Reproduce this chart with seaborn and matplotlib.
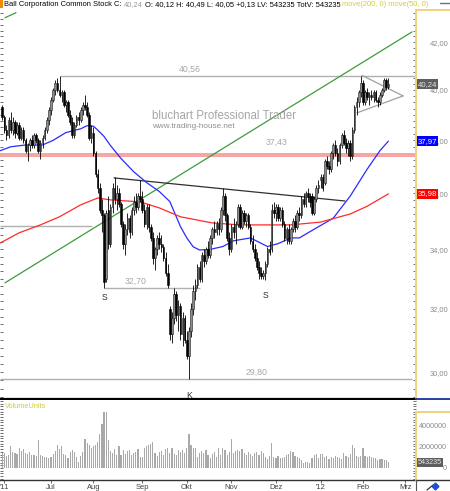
import numpy as np
import matplotlib
matplotlib.use("Agg")
import matplotlib.pyplot as plt
import matplotlib.transforms as mtransforms
from matplotlib.lines import Line2D
from matplotlib.patches import Rectangle
from matplotlib.ticker import FixedLocator, FixedFormatter, NullFormatter
import seaborn as sns

sns.set_style("white")
plt.rcParams['font.family'] = ['Liberation Sans', 'DejaVu Sans']

# Ball Corp daily bars, trading day 0 = 31 May 2011 ... 182 = 17 Feb 2012
opens = [39.3, 38.9, 38.4, 38.2, 38.8, 38.4, 38.7, 38.3, 38.6, 38.1,
         38.4, 38.0, 37.6, 37.8, 38.0, 37.8, 38.2, 38.0, 37.6, 37.9,
         38.1, 38.4, 38.8, 39.2, 39.6, 40.0, 40.3, 40.0, 39.8, 39.9,
         39.4, 39.5, 39.0, 38.7, 38.2, 38.6, 38.9, 38.8, 39.2, 39.4,
         39.3, 39.0, 38.1, 38.3, 37.5, 36.7, 36.2, 35.4, 35.2, 33.0,
         35.4, 34.2, 35.5, 36.2, 35.8, 36.0, 35.6, 34.9, 34.2, 34.7,
         35.1, 34.6, 35.4, 35.7, 35.5, 35.9, 35.8, 35.4, 34.9, 35.5,
         34.8, 34.4, 33.7, 34.0, 34.4, 34.2, 34.1, 33.7, 33.2, 32.0,
         31.2, 31.7, 32.5, 31.8, 32.1, 31.2, 31.7, 31.0, 30.5, 31.3,
         32.0, 32.6, 32.8, 33.4, 33.0, 33.8, 33.6, 34.0, 33.8, 34.4,
         34.7, 34.6, 34.9, 34.7, 35.4, 35.9, 35.2, 34.4, 34.0, 34.8,
         34.6, 34.9, 35.5, 34.8, 35.3, 35.0, 35.2, 34.8, 34.3, 34.0,
         33.7, 33.4, 33.2, 33.1, 33.2, 33.5, 34.0, 34.0, 35.4, 35.3,
         35.5, 35.1, 35.4, 34.9, 34.4, 34.7, 34.3, 34.7, 35.0, 34.8,
         35.3, 35.2, 35.8, 35.6, 36.0, 35.9, 35.9, 35.3, 35.8, 36.2,
         36.5, 36.6, 36.4, 37.2, 37.0, 36.9, 37.5, 37.8, 37.5, 37.2,
         37.8, 38.2, 37.9, 37.7, 37.9, 37.4, 38.4, 39.3, 39.5, 39.9,
         40.3, 39.5, 39.9, 39.7, 39.8, 39.7, 39.9, 39.6, 39.5, 39.8,
         40.0, 40.4, 40.12]
highs = [39.4, 39.0, 38.6, 38.9, 39.1, 38.9, 38.8, 38.7, 38.7, 38.5,
         38.5, 38.1, 37.9, 38.1, 38.2, 38.3, 38.3, 38.1, 38.0, 38.2,
         38.5, 38.9, 39.3, 39.7, 40.1, 40.4, 40.5, 40.56, 40.0, 40.0,
         39.6, 39.6, 39.2, 38.9, 38.7, 39.0, 39.1, 39.3, 39.5, 39.8,
         39.5, 39.1, 38.6, 38.5, 37.6, 36.9, 36.4, 35.8, 35.3, 35.4,
         35.9, 35.6, 36.4, 36.6, 36.3, 36.2, 35.7, 35.0, 34.9, 35.3,
         35.2, 35.5, 35.9, 36.0, 36.0, 36.5, 36.1, 35.6, 35.6, 35.6,
         34.9, 34.6, 34.1, 34.5, 34.6, 34.5, 34.2, 33.9, 33.5, 32.1,
         31.9, 32.7, 32.6, 32.3, 32.2, 31.9, 31.8, 31.3, 31.4, 32.2,
         32.8, 33.0, 33.5, 33.6, 33.9, 34.0, 34.1, 34.3, 34.5, 34.8,
         35.0, 35.0, 35.1, 35.5, 36.2, 36.0, 35.3, 34.6, 34.9, 35.1,
         35.0, 35.6, 35.6, 35.4, 35.4, 35.3, 35.3, 34.9, 34.5, 34.2,
         33.9, 33.6, 33.4, 33.3, 33.6, 34.1, 34.3, 35.6, 35.7, 35.6,
         35.6, 35.5, 35.5, 35.0, 34.8, 34.9, 34.8, 35.1, 35.2, 35.4,
         35.5, 35.9, 36.0, 36.1, 36.2, 36.0, 36.0, 35.9, 36.3, 36.5,
         36.7, 36.7, 37.3, 37.4, 37.2, 37.6, 37.9, 38.0, 37.7, 37.9,
         38.3, 38.4, 38.1, 38.0, 38.0, 38.5, 39.4, 39.7, 40.0, 40.56,
         40.4, 40.0, 40.1, 39.9, 40.0, 40.0, 40.0, 39.7, 39.9, 40.1,
         40.5, 40.5, 40.49]
lows = [38.8, 38.3, 38.0, 38.1, 38.3, 38.2, 38.1, 38.2, 38.0, 38.0,
        37.9, 37.5, 37.2, 37.6, 37.7, 37.7, 37.9, 37.5, 37.3, 37.7,
        38.0, 38.3, 38.6, 39.0, 39.5, 39.8, 39.9, 39.7, 39.5, 39.3,
        39.1, 38.9, 38.6, 38.1, 38.1, 38.5, 38.6, 38.7, 39.0, 39.2,
        38.9, 38.0, 37.9, 37.4, 36.6, 36.0, 35.3, 34.6, 32.7, 32.9,
        34.0, 34.1, 35.3, 35.6, 35.4, 35.5, 34.8, 34.0, 33.8, 34.5,
        34.4, 34.5, 35.2, 35.3, 35.4, 35.7, 35.3, 34.8, 34.7, 34.6,
        34.3, 33.5, 33.3, 33.8, 34.0, 33.9, 33.6, 33.1, 32.7, 31.0,
        30.9, 31.5, 31.6, 31.3, 31.0, 30.8, 30.9, 30.4, 29.8, 31.1,
        31.8, 32.3, 32.7, 32.9, 32.9, 33.4, 33.5, 33.7, 33.7, 34.2,
        34.4, 34.5, 34.5, 34.6, 35.2, 35.0, 34.3, 33.8, 33.9, 34.4,
        34.2, 34.8, 34.7, 34.7, 34.9, 34.8, 34.7, 34.2, 33.9, 33.6,
        33.3, 33.0, 33.0, 33.0, 32.96, 33.4, 33.8, 33.9, 35.1, 35.0,
        35.0, 35.0, 34.8, 34.3, 34.2, 34.2, 34.2, 34.6, 34.6, 34.7,
        35.0, 35.1, 35.5, 35.5, 35.7, 35.5, 35.2, 35.2, 35.7, 36.0,
        36.2, 36.1, 36.3, 36.9, 36.7, 36.8, 37.3, 37.4, 37.0, 37.1,
        37.7, 37.8, 37.5, 37.4, 37.2, 37.3, 38.3, 39.0, 39.3, 39.7,
        39.4, 39.4, 39.6, 39.4, 39.6, 39.5, 39.5, 39.3, 39.4, 39.7,
        39.9, 40.0, 40.05]
closes = [38.9, 38.4, 38.2, 38.8, 38.4, 38.7, 38.3, 38.6, 38.1, 38.4,
          38.0, 37.6, 37.8, 38.0, 37.8, 38.2, 38.0, 37.6, 37.9, 38.1,
          38.4, 38.8, 39.2, 39.6, 40.0, 40.3, 40.0, 39.8, 39.9, 39.4,
          39.5, 39.0, 38.7, 38.2, 38.6, 38.9, 38.8, 39.2, 39.4, 39.3,
          39.0, 38.1, 38.3, 37.5, 36.7, 36.2, 35.4, 35.2, 32.9, 35.3,
          34.2, 35.5, 36.2, 35.8, 36.0, 35.6, 34.9, 34.2, 34.7, 35.1,
          34.6, 35.4, 35.7, 35.5, 35.9, 35.8, 35.4, 34.9, 35.5, 34.8,
          34.4, 33.7, 34.0, 34.4, 34.2, 34.1, 33.7, 33.2, 32.8, 31.2,
          31.7, 32.5, 31.8, 32.1, 31.2, 31.7, 31.0, 30.5, 31.3, 32.0,
          32.6, 32.8, 33.4, 33.0, 33.8, 33.6, 34.0, 33.8, 34.4, 34.7,
          34.6, 34.9, 34.7, 35.4, 35.9, 35.2, 34.4, 34.0, 34.8, 34.6,
          34.9, 35.5, 34.8, 35.3, 35.0, 35.2, 34.8, 34.3, 34.0, 33.7,
          33.4, 33.2, 33.1, 33.2, 33.5, 34.0, 33.9, 35.4, 35.3, 35.5,
          35.1, 35.4, 34.9, 34.4, 34.7, 34.3, 34.7, 35.0, 34.8, 35.3,
          35.2, 35.8, 35.6, 36.0, 35.9, 35.7, 35.3, 35.8, 36.2, 36.3,
          36.6, 36.2, 37.2, 37.0, 36.9, 37.5, 37.8, 37.5, 37.2, 37.8,
          38.2, 37.9, 37.7, 37.9, 37.4, 38.4, 39.3, 39.5, 39.9, 40.3,
          39.5, 39.9, 39.7, 39.8, 39.7, 39.9, 39.6, 39.5, 39.8, 40.0,
          40.4, 40.12, 40.24]
# volume in millions of shares
volume_mio = [1.4, 1.4, 1.1, 1.2, 2.0, 1.5, 1.4, 1.3, 1.9, 1.6,
              1.8, 1.4, 1.3, 1.5, 1.2, 1.2, 1.1, 2.6, 1.2, 1.1,
              1.0, 1.0, 0.9, 1.0, 1.3, 1.6, 2.1, 1.8, 2.0, 1.3,
              1.2, 0.9, 1.5, 1.7, 1.5, 1.0, 0.6, 1.1, 1.5, 2.7,
              2.3, 2.1, 1.9, 2.0, 2.1, 2.4, 3.2, 4.1, 5.2, 5.2,
              2.6, 1.6, 1.4, 1.8, 1.2, 2.0, 1.2, 1.7, 1.3, 1.6,
              1.7, 1.2, 1.4, 1.5, 1.8, 1.0, 1.0, 1.9, 2.0, 2.1,
              2.2, 2.4, 1.4, 1.1, 1.5, 1.6, 1.2, 1.8, 1.9, 1.4,
              1.9, 1.3, 1.2, 1.7, 1.5, 1.7, 1.4, 1.9, 3.2, 2.1,
              1.9, 1.9, 1.0, 1.4, 1.6, 1.4, 1.7, 1.2, 0.9, 1.3,
              1.5, 1.0, 1.9, 1.2, 1.9, 1.7, 1.2, 1.5, 2.7, 1.4,
              1.6, 1.7, 1.6, 1.8, 1.4, 1.2, 1.5, 1.3, 1.1, 1.4,
              1.5, 1.2, 1.6, 1.4, 1.0, 0.8, 1.1, 2.3, 1.0, 0.9,
              1.1, 0.9, 0.9, 1.0, 1.2, 1.3, 1.6, 1.5, 1.1, 1.0,
              0.9, 0.7, 0.5, 0.6, 0.6, 0.5, 0.9, 1.2, 1.3, 0.9,
              1.3, 1.3, 1.0, 1.1, 0.8, 1.0, 0.9, 1.1, 1.0, 0.9,
              0.8, 1.4, 1.1, 1.0, 1.3, 2.1, 1.9, 1.1, 1.0, 1.1,
              1.9, 1.1, 1.0, 1.1, 1.0, 0.9, 0.9, 0.7, 0.8, 0.8,
              0.7, 0.7, 0.543235]

# moving averages (day index, value)
ma50_day = [-1, 4, 11, 19, 24, 30, 37, 40, 43, 45, 48, 51, 56, 62, 68, 74, 79, 84,
            87, 90, 93, 98, 104, 109, 117, 125, 130, 136, 140, 148, 156, 164, 172, 178, 182]
ma50_val = [37.6, 37.75, 37.82, 37.82, 38.0, 38.3, 38.45, 38.57, 38.55, 38.4, 38.15, 37.8,
            37.3, 36.8, 36.4, 36.07, 35.7, 34.8, 34.4, 34.09, 33.98, 34.0, 34.1, 34.3, 34.4,
            34.1, 34.2, 34.4, 34.4, 34.75, 35.1, 35.9, 36.9, 37.6, 37.97]
ma200_day = [-1, 8, 18, 27, 37, 45, 51, 65, 74, 84, 99, 112, 128, 136, 150, 164, 172, 182]
ma200_val = [34.22, 34.58, 34.86, 35.15, 35.58, 35.83, 35.76, 35.69, 35.47, 35.15, 34.93,
             34.86, 34.86, 34.86, 34.96, 35.25, 35.53, 35.98]

# drawn lines: (start day, start price, end day, end price)
trend_green = [1.3, 32.86, 193.1, 42.44]
trend_green2 = [1.3, 43.06, 6.5, 43.28]
resistance = [52.7, 36.57, 161.5, 35.72]
triangle_day = [169.6, 188.9, 167.2]
triangle_val = [40.60, 39.76, 39.08]
# horizontal levels: (price, from day, to day, label, label day)
levels = [(40.56, 27, 194.5, "40,56", 88.5),
          (32.70, 48, 93.2, "32,70", 63),
          (29.80, -1.1, 193.1, "29,80", 120)]
grey_level = (34.82, -1.1, 42.3)
pink_level = 37.43

price_ticks = [30, 32, 34, 36, 38, 40, 42]
price_labels = ["30,00", "32,00", "34,00", "36,00", "38,00", "40,00", "42,00"]
vol_ticks = [0, 2000000, 4000000]
vol_labels = ["0", "2000000", "4000000"]
month_pos = [1, 23, 43, 66, 87, 108, 129, 150, 170, 190]
month_lbl = ["'11", "Jul", "Aug", "Sep", "Okt", "Nov", "Dez", "'12", "Feb", "Mrz"]

W, H = 450, 491
def fx(px):
    return px / W
def fy(py):
    return 1 - py / H

fig = plt.figure(figsize=(W / 100, H / 100), dpi=100)
fig.patch.set_facecolor('white')
ax = fig.add_axes([0, fy(399), fx(416), (399 - 10) / H])
axv = fig.add_axes([0, fy(480), fx(416), (480 - 400) / H])

x = np.arange(len(closes))
o, h, l, c = map(np.array, (opens, highs, lows, closes))
up = c >= o

# levels, trendlines, moving averages
ax.axhspan(pink_level - 0.09, pink_level + 0.09, color='#f7a6a6', lw=0, zorder=1)
ax.text(129.5, pink_level + 0.3, "37,43", color='#a8a8a8', fontsize=6.3, ha='center', va='bottom')
for val, d0, d1, lbl, lx in levels:
    ax.hlines(val, d0, d1, colors='#b0b0b0', lw=1.0, zorder=2)
    ax.annotate(lbl, (lx, val), xytext=(0, 1.5), textcoords='offset points',
                color='#a8a8a8', fontsize=6.3, ha='center', va='bottom')
ax.hlines(grey_level[0], grey_level[1], grey_level[2], colors='#b0b0b0', lw=1.0, zorder=2)
ax.plot(trend_green[0::2], trend_green[1::2], color='#3c9c3c', lw=0.9, zorder=2)
ax.plot(trend_green2[0::2], trend_green2[1::2], color='#3c9c3c', lw=0.9, zorder=2)
ax.plot(resistance[0::2], resistance[1::2], color='#303030', lw=0.9, zorder=3)
ax.plot(triangle_day[:2], triangle_val[:2], color='#a0a0a0', lw=0.9, zorder=3)
ax.plot(triangle_day[1:], triangle_val[1:], color='#a0a0a0', lw=0.9, zorder=3)
sns.lineplot(x=ma50_day, y=ma50_val, ax=ax, color='#2b2bff', lw=0.9, zorder=3)
sns.lineplot(x=ma200_day, y=ma200_val, ax=ax, color='#ff2b2b', lw=0.9, zorder=3)

# candles
ax.vlines(x, l, h, color='black', lw=0.6, zorder=4)
ax.bar(x[up], (c - o)[up], bottom=o[up], width=0.75, color='#8c8c8c',
       edgecolor='#202020', lw=0.4, zorder=5)
ax.bar(x[~up], (o - c)[~up], bottom=c[~up], width=0.75, color='black',
       edgecolor='black', lw=0.4, zorder=5)

# pattern labels
for d, val, s, off in [(48, 32.70, "S", 4), (88, 29.80, "K", 9), (124, 32.96, "S", 8)]:
    ax.annotate(s, (d, val), xytext=(0, -off), textcoords='offset points',
                ha='center', va='top', fontsize=6.2, color='#303030')

# watermark
ax.text(152 / 416, 1 - (116 - 10) / 389, "bluchart Professional Trader", transform=ax.transAxes,
        fontsize=8.3, color='#a6a6a6', ha='left', va='center')
ax.text(152 / 416, 1 - (127 - 10) / 389, "www.trading-house.net", transform=ax.transAxes,
        fontsize=5.9, color='#909090', ha='left', va='center')

ax.set_yscale('log')
ax.set_ylim(29.19, 43.40)
ax.set_xlim(-1.04, 195.0)
ax.yaxis.set_major_locator(FixedLocator(price_ticks))
ax.yaxis.set_major_formatter(FixedFormatter(price_labels))
ax.yaxis.set_minor_locator(FixedLocator(np.arange(29.25, 43.5, 0.25)))
ax.yaxis.set_minor_formatter(NullFormatter())
ax.tick_params(axis='y', which='both', left=True, right=True, labelleft=False, labelright=True,
               direction='in', length=2.2, width=0.6, color='#555555', labelsize=5.4,
               labelcolor='#8a8a8a', pad=10)
ax.tick_params(axis='x', bottom=False, labelbottom=False)
ax.set_xlabel('')
ax.set_ylabel('')
for s in ['top', 'left', 'right']:
    ax.spines[s].set_visible(False)
ax.spines['bottom'].set_color('black')
ax.spines['bottom'].set_linewidth(1.6)

# last value boxes on the price axis
trans = mtransforms.blended_transform_factory(ax.transAxes, ax.transData)
for val, txt, bg, fg in [(closes[-1], "40,24", '#5e5e5e', '#e6e6e6'),
                         (ma50_val[-1], "37,97", '#0000ff', 'white'),
                         (ma200_val[-1], "35,98", '#ff0000', 'white')]:
    ax.text(1.004, val, txt, transform=trans, ha='left', va='center', fontsize=5.6, color=fg,
            bbox=dict(boxstyle='square,pad=0.15', fc=bg, ec='none'), clip_on=False, zorder=10)

# volume panel
axv.bar(x, np.array(volume_mio) * 1e6, width=0.55, color='#a9a9a9', lw=0)
axv.set_xlim(-1.04, 195.0)
axv.set_ylim(-1.12e6, 6.33e6)
axv.yaxis.set_major_locator(FixedLocator(vol_ticks))
axv.yaxis.set_major_formatter(FixedFormatter(vol_labels))
axv.yaxis.set_minor_locator(FixedLocator(np.arange(-1e6, 6.3e6, 250000)))
axv.tick_params(axis='y', which='both', left=True, right=True, labelleft=False, labelright=True,
                direction='in', length=2.2, width=0.6, color='#555555', labelsize=5.2,
                labelcolor='#8a8a8a', pad=22.3)
for t in axv.get_yticklabels():
    t.set_horizontalalignment('right')
axv.set_xticks(month_pos)
axv.set_xticklabels(month_lbl)
axv.tick_params(axis='x', bottom=True, direction='out', length=2, width=0.6, color='#555555',
                labelsize=5.4, labelcolor='#404040', pad=1.2)
for s in ['top', 'left', 'right']:
    axv.spines[s].set_visible(False)
axv.spines['bottom'].set_color('#333333')
axv.spines['bottom'].set_linewidth(1.0)
axv.text(5 / 416, 1 - 6 / 80, "VolumeUnits", transform=axv.transAxes, fontsize=5.3,
         color='#cfcf3a', ha='left', va='center', zorder=6)
vtrans = mtransforms.blended_transform_factory(axv.transAxes, axv.transData)
axv.text(1.004, volume_mio[-1] * 1e6, "543235", transform=vtrans, ha='left', va='center',
         fontsize=5.2, color='#e6e6e6', bbox=dict(boxstyle='square,pad=0.15', fc='#5e5e5e', ec='none'),
         clip_on=False, zorder=10)

# frame pieces around the axes
yel = '#f2d27a'
for xs, ys, col, lw in [([416, 416], [10, 398], yel, 1.4),
                        ([416, 450], [10, 10], yel, 1.4),
                        ([416, 450], [398.5, 398.5], '#28409c', 1.4),
                        ([416, 416], [412, 480], yel, 1.4),
                        ([416, 450], [412, 412], yel, 1.4),
                        ([416, 450], [480, 480], '#333333', 1.0),
                        ([416, 416], [480, 491], '#555555', 0.8),
                        ([440, 450], [3, 3], '#707070', 1.0)]:
    fig.add_artist(Line2D([fx(v) for v in xs], [fy(v) for v in ys], color=col, lw=lw))
fig.add_artist(Rectangle((0, fy(8)), fx(3), 8 / H, color='#f08a00', lw=0))
fig.add_artist(Line2D([fx(427), fx(433)], [fy(490), fy(485)], color='#202020', lw=0.8))
fig.add_artist(Line2D([fx(435)], [fy(486)], marker='D', ms=3.5, color='#1f4fd0', lw=0))

# header line with coloured parts, each piece placed after the previous one
pieces = [("Ball Corporation Common Stock C:", 'black'),
          ("40,24", '#9a9a9a'),
          ("O: 40,12 H: 40,49 L: 40,05 +0,13 LV: 543235 TotV: 543235", 'black'),
          ("move(200, 0) move(50, 0)", '#d2cc3a')]
t = fig.text(fx(4), fy(5), pieces[0][0], color=pieces[0][1], fontsize=5.4, ha='left', va='center')
for s, col in pieces[1:]:
    t = ax.annotate(s, xy=(1, 0.5), xycoords=t, xytext=(1.5, 0), textcoords='offset points',
                    color=col, fontsize=5.4, ha='left', va='center', annotation_clip=False)

fig.savefig('out.png', dpi=100, facecolor='white')
